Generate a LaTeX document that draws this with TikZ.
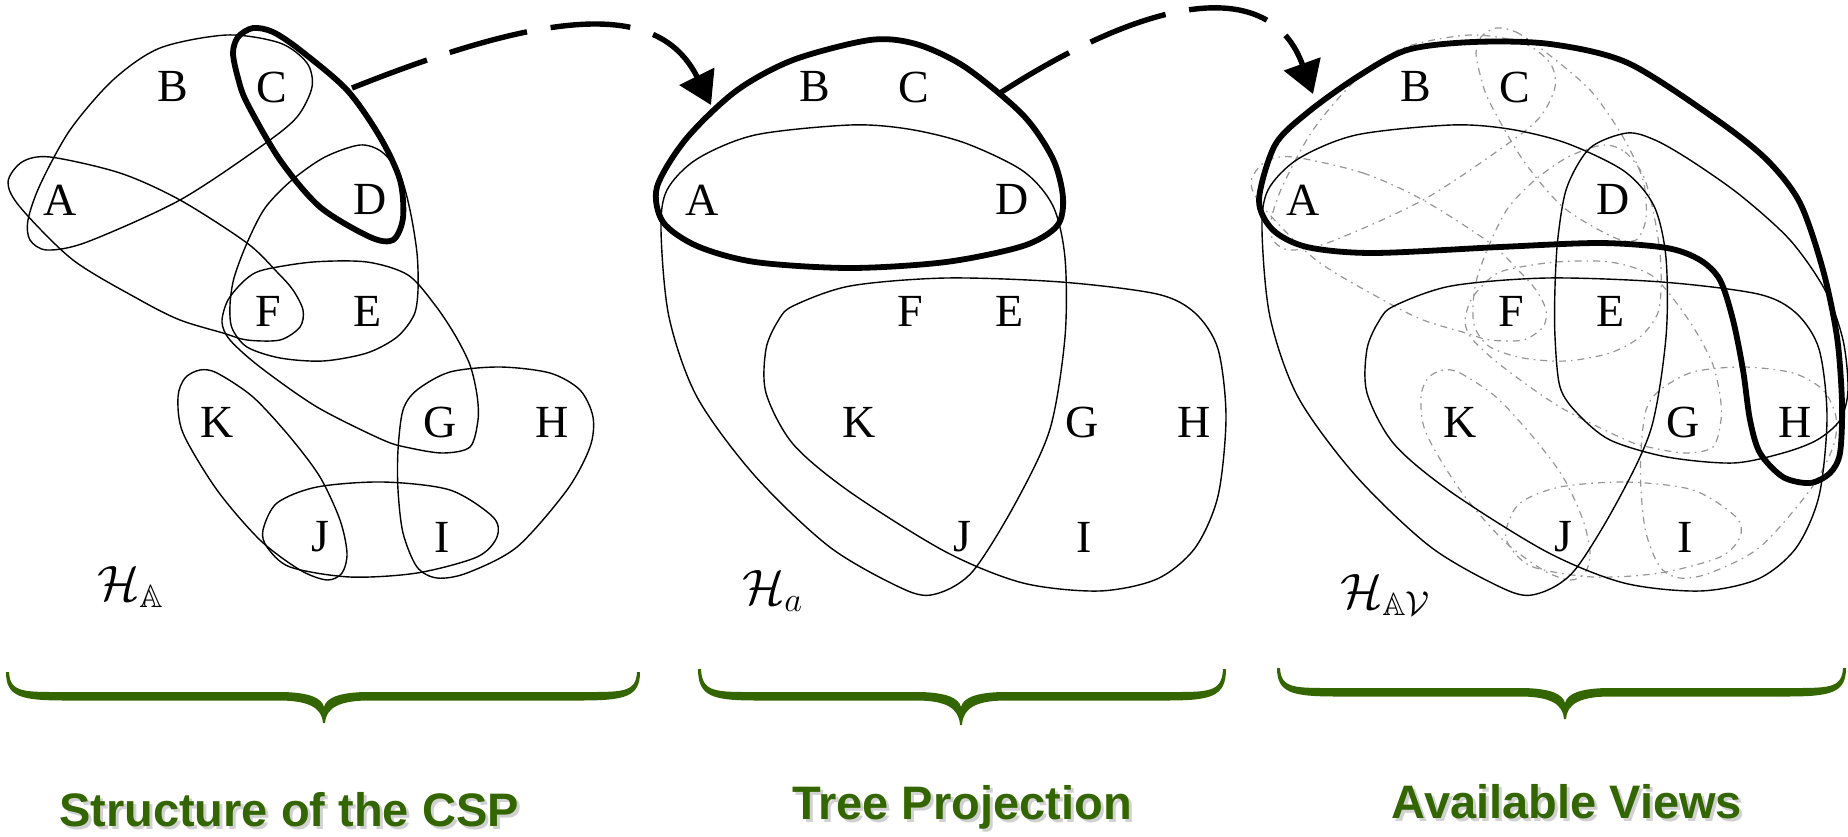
\documentclass[tikz,border=0pt]{standalone}
\usepackage{fontspec}
\usepackage{amssymb}
\setmainfont{Liberation Serif}
\newfontfamily\lblfont{Liberation Sans}
\usetikzlibrary{arrows.meta}
\definecolor{csgreen}{RGB}{51,102,0}
\definecolor{dotgray}{RGB}{150,150,150}

% ---- hyperedges of the CSP structure (panel-local coordinates, pixels)
\newcommand{\cspedges}[2]{%
 \draw[#1] plot[smooth cycle] coordinates {(227,35) (280,43) (307,63) (312,87) (297,117) (263,145) (180,200) (87,242) (47,250) (30,240) (28,220) (40,185) (70,130) (113,80) (160,48)};
 \draw[#1] plot[smooth cycle] coordinates {(50,157) (120,173) (180,200) (247,243) (277,272) (293,290) (303,310) (300,327) (280,340) (247,340) (223,333) (180,320) (140,300) (73,260) (20,207) (8,182) (22,162)};
 \draw[#1] plot[smooth cycle] coordinates {(360,145) (382,152) (400,175) (410,210) (417,253) (418,290) (414,315) (397,337) (367,353) (323,361) (280,358) (247,347) (232,328) (230,305) (234,278) (247,243) (265,208) (292,180) (325,157)};
 \draw[#1] plot[smooth cycle] coordinates {(263,270) (313,262) (367,262) (408,275) (435,305) (455,335) (470,365) (477,395) (478,420) (470,447) (443,453) (410,448) (383,440) (317,407) (260,367) (230,340) (222,322) (228,300) (245,280)};
 \draw[#1] plot[smooth cycle] coordinates {(200,370) (217,373) (253,397) (290,437) (320,477) (340,520) (347,553) (342,573) (327,580) (300,570) (260,540) (217,490) (183,433) (178,397) (185,378)};
 \draw[#1] plot[smooth cycle] coordinates {(450,372) (500,367) (550,373) (580,390) (593,417) (590,447) (567,490) (517,547) (467,573) (437,578) (417,567) (403,533) (398,490) (398,450) (403,410) (417,390)};
 \draw[#1] plot[smooth cycle] coordinates {(317,487) (383,482) (450,490) (493,517) (497,537) (477,557) (417,573) (350,577) (290,567) (267,547) (263,530) (277,503)};
 \draw[#2] plot[smooth cycle] coordinates {(253,28) (273,32) (300,50) (347,90) (380,137) (400,180) (403,218) (393,240) (370,237) (320,207) (280,160) (247,103) (238,78) (233,53) (238,37)};
}
% ---- the two thin edges of the tree projection (panel-local)
\newcommand{\treeedges}[1]{%
 \draw[#1] plot[smooth cycle] coordinates {(208,125) (266,129) (323,143) (381,171) (411,206) (423,258) (423,337) (408,429) (373,504) (331,571) (297,593) (266,591) (189,548) (113,476) (55,397) (27,317) (19,230) (25,190) (55,159) (113,135)};
 \draw[#1] plot[smooth cycle] coordinates {(151,306) (208,286) (304,278) (419,282) (515,294) (553,313) (576,349) (584,417) (576,496) (553,548) (515,579) (457,591) (381,583) (304,552) (208,492) (151,444) (124,393) (124,349) (136,321)};
}
% ---- vertex letters (panel-local), #1 = name suffix
\newcommand{\vertexletters}[1]{%
 \node[vtx] (A#1) at (60,200) {A};
 \node[vtx] (B#1) at (173,87) {B};
 \node[vtx] (C#1) at (272,87) {C};
 \node[vtx] (D#1) at (370,199) {D};
 \node[vtx] (F#1) at (268,311) {F};
 \node[vtx] (E#1) at (368,311) {E};
 \node[vtx] (K#1) at (217,422) {K};
 \node[vtx] (G#1) at (440,422) {G};
 \node[vtx] (H#1) at (552,422) {H};
 \node[vtx] (J#1) at (320,537) {J};
 \node[vtx] (I#1) at (442,537) {I};
}
% ---- green curly brace: xl xr cx ytip ybar ycusp
\newcommand{\greenbrace}[6]{%
 \fill[csgreen] (#1,#4)
  .. controls (#1,{#5+1}) and ({#1+15},{#5+4.5}) .. ({#1+60},{#5+4.5})
  -- ({#3-45},{#5+4.5})
  .. controls ({#3-15},{#5+4.5}) and ({#3-2},{#5+12}) .. ({#3-1},#6)
  -- ({#3+1},#6)
  .. controls ({#3+2},{#5+12}) and ({#3+15},{#5+4.5}) .. ({#3+45},{#5+4.5})
  -- ({#2-60},{#5+4.5})
  .. controls ({#2-15},{#5+4.5}) and (#2,{#5+1}) .. (#2,#4)
  -- ({#2-3},#4)
  .. controls ({#2-4},{#5-3}) and ({#2-18},{#5-4}) .. ({#2-60},{#5-4})
  -- ({#3+45},{#5-4})
  .. controls ({#3+15},{#5-4}) and ({#3+2},{#5+2}) .. (#3,{#5+11})
  .. controls ({#3-2},{#5+2}) and ({#3-15},{#5-4}) .. ({#3-45},{#5-4})
  -- ({#1+60},{#5-4})
  .. controls ({#1+18},{#5-4}) and ({#1+4},{#5-3}) .. ({#1+3},#4)
  -- cycle;}

\begin{document}
\begin{tikzpicture}[x=0.5pt,y=-0.5pt,
  thinedge/.style={line width=0.7pt, black},
  thickedge/.style={line width=2.9pt, black},
  viewedge/.style={line width=0.6pt, dotgray, dash pattern=on 3.5pt off 2.5pt on 0.8pt off 2.5pt},
  vtx/.style={inner sep=0pt, font=\fontsize{23}{23}\selectfont},
  hlabel/.style={inner sep=0pt, anchor=base west, font=\fontsize{23}{23}\selectfont},
  caption/.style={inner sep=0pt, anchor=base, text=csgreen, font=\lblfont\bfseries\fontsize{23.5}{24}\selectfont},
  capshadow/.style={caption, text=black!18},
  flowarrow/.style={line width=2.7pt, dash pattern=on 40pt off 12pt, -{Triangle[length=16pt,width=19pt]}}
]
\useasboundingbox (0,0) rectangle (1848,836);

% ---------------- panel 1: structure of the CSP
\cspedges{thinedge}{thickedge}
\vertexletters{1}
\node[hlabel] (HA1) at (97,600) {$\mathcal{H}_{\mathbb{A}}$};

% ---------------- panel 2: tree projection
\begin{scope}[shift={(642,0)}]
 \treeedges{thinedge}
 \draw[thickedge] plot[smooth cycle] coordinates {(228,40) (274,44) (323,67) (381,115) (411,159) (421,198) (415,226) (381,246) (304,262) (208,268) (113,262) (55,246) (21,222) (15,187) (44,139) (94,91) (151,60)};
 \vertexletters{2}
 \node[hlabel] (HA2) at (100,604) {$\mathcal{H}_{a}$};
\end{scope}

% ---------------- panel 3: available views
\begin{scope}[shift={(1243,0)}]
 \cspedges{viewedge}{viewedge}
 \treeedges{thinedge}
 \draw[thinedge] plot[smooth cycle] coordinates {(384,133) (412,140) (447,160) (497,195) (547,240) (582,290) (600,340) (605,390) (597,420) (574,440) (540,453) (490,463) (424,457) (367,440) (334,413) (317,387) (312,337) (312,287) (315,237) (324,187) (347,148)};
 \draw[thickedge] plot[smooth cycle] coordinates {(16,200) (32,145) (64,113) (114,77) (164,50) (230,42) (307,44) (385,63) (474,120) (524,160) (557,203) (580,270) (594,337) (599,403) (597,453) (587,473) (567,483) (540,477) (517,453) (507,420) (500,370) (490,320) (477,280) (457,260) (424,248) (357,243) (257,247) (130,253) (64,247) (30,230)};
 \vertexletters{3}
 \node[hlabel] (HA3) at (97,608) {$\mathcal{H}_{\mathbb{A}\mathcal{V}}$};
\end{scope}

% ---------------- dashed arrows
\coordinate (arrOneStart) at (352,88);
\coordinate (arrOneEnd) at (711,105);
\coordinate (arrTwoStart) at (1000,93);
\coordinate (arrTwoEnd) at (1313,94);
\draw[flowarrow] (arrOneStart) .. controls (560,5) and (661,4) .. (arrOneEnd);
\draw[flowarrow] (arrTwoStart) .. controls (1160,-10) and (1272,-20) .. (arrTwoEnd);

% ---------------- braces and captions
\greenbrace{6}{640}{324}{672}{696}{723}
\greenbrace{698}{1226}{961}{669}{696}{725}
\greenbrace{1277}{1846}{1565}{668}{692}{719}
\node[capshadow] (cap1s) at (292,829) {Structure of the CSP};
\node[capshadow] (cap2s) at (965,822) {Tree Projection};
\node[capshadow] (cap3s) at (1570,821) {Available Views};
\node[caption] (cap1) at (289,826) {Structure of the CSP};
\node[caption] (cap2) at (962,819) {Tree Projection};
\node[caption] (cap3) at (1567,818) {Available Views};
\end{tikzpicture}
\end{document}
